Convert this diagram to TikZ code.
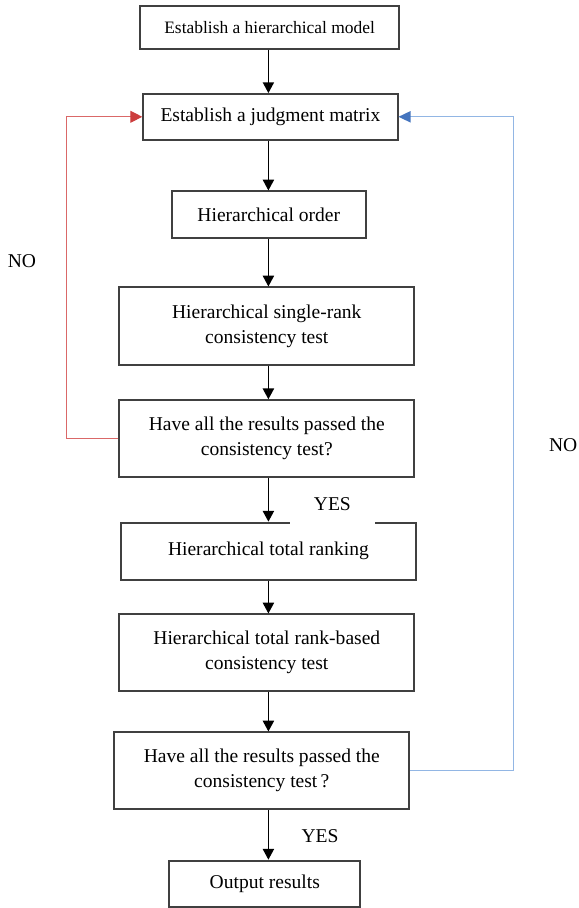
\documentclass[tikz,border=0pt]{standalone}
\usepackage{fontspec}
\setmainfont{Liberation Serif}
\usepackage{xcolor}
\usepackage{tikz}
\usetikzlibrary{shapes.geometric, arrows.meta, positioning}

\definecolor{boxgray}{RGB}{64,64,64}
\definecolor{loopred}{RGB}{218,104,104}
\definecolor{loopredtip}{RGB}{204,62,62}
\definecolor{loopblue}{RGB}{146,182,228}
\definecolor{loopbluetip}{RGB}{68,116,190}

\begin{document}
\begin{tikzpicture}[
    stage/.style={rectangle, draw=boxgray, line width=1.3pt, minimum width=7.37cm, minimum height=1.93cm, inner sep=2pt, fill=white, align=center, font=\fontsize{13.9}{17.8}\selectfont},
    short/.style={stage, minimum height=1.14cm},
    tag/.style={font=\fontsize{13.9}{17.8}\selectfont, inner sep=0pt},
    flow/.style={-{Triangle[length=0.27cm, width=0.28cm]}, line width=1.1pt},
    noleft/.style={-{Triangle[length=0.3cm, width=0.3cm, color=loopredtip]}, draw=loopred, line width=0.8pt},
    noright/.style={-{Triangle[length=0.3cm, width=0.28cm, color=loopbluetip]}, draw=loopblue, line width=0.8pt}
]
\useasboundingbox (0,0) rectangle (14.475,-22.7);
\coordinate (spine) at (6.71,0);

% Building the judgment matrix
\node[short, minimum width=6.46cm, minimum height=1.07cm, font=\fontsize{12.4}{15}\selectfont] (model) at (6.74,-0.68) {Establish a hierarchical model};
\node[short, minimum width=6.36cm] (matrix) at (6.76,-2.92) {Establish a judgment matrix};
\node[short, minimum width=4.84cm, minimum height=1.17cm] (order) at (6.72,-5.37) {Hierarchical order};

% Single-rank check
\node[stage] (single) at (6.67,-8.15) {Hierarchical single-rank\\consistency test};
\node[stage] (check1) at (6.67,-10.97) {Have all the results passed the\\consistency test?};

% Total ranking check
\node[stage, minimum height=1.43cm] (total) at (6.71,-13.78) {Hierarchical total ranking};
\node[stage, minimum height=1.92cm] (based) at (6.67,-16.32) {Hierarchical total rank-based\\consistency test};
\node[stage, minimum height=1.92cm] (check2) at (6.545,-19.27) {Have all the results passed the\\consistency test\,?};
\node[short, minimum width=4.78cm, minimum height=1.15cm] (output) at (6.62,-22.09) {Output results};

% Main flow
\draw[flow] (model.south -| spine) -- (matrix.north -| spine);
\draw[flow] (matrix.south -| spine) -- (order.north -| spine);
\draw[flow] (order.south -| spine) -- (single.north -| spine);
\draw[flow] (single.south -| spine) -- (check1.north -| spine);
\draw[flow] (check1.south -| spine) -- (total.north -| spine);
\draw[flow] (total.south -| spine) -- (based.north -| spine);
\draw[flow] (based.south -| spine) -- (check2.north -| spine);
\draw[flow] (check2.south -| spine) -- (output.north -| spine);

% Feedback loops
\draw[noleft] (check1.west) -- ++(-1.29,0) |- (matrix.west);
\draw[noright] (check2.east) -- ++(2.575,0) |- (matrix.east);

% Labels
\node[tag] (noA) at (0.55,-6.54) {NO};
\node[tag, anchor=east] (noB) at (14.44,-11.12) {NO};
\node[tag, fill=white, minimum width=2.13cm, minimum height=1.0cm] (yesA) at (8.31,-12.6) {YES};
\node[tag] (yesB) at (8.0,-20.9) {YES};

\end{tikzpicture}
\end{document}
